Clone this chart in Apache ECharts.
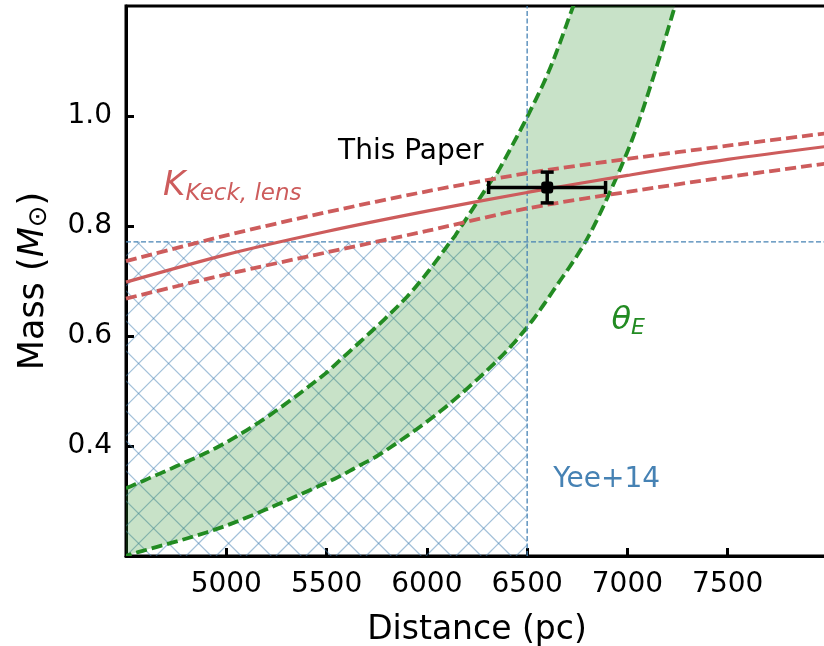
<!DOCTYPE html>
<html>
<head>
<meta charset="utf-8">
<script src="https://cdn.jsdelivr.net/npm/echarts@6/dist/echarts.min.js"></script>
<style>
html, body { margin: 0; padding: 0; background: #fff; }
#chart { width: 824px; height: 646px; }
</style>
</head>
<body>
<div id="chart"></div>
<script>
// K-band (Keck) mass-distance relation
const keckDist = [4500, 5000, 5500, 6000, 6500, 7000, 7500, 8000]
const keckMass = [0.698, 0.748, 0.790, 0.827, 0.861, 0.892, 0.921, 0.945]
const keckUpper = [0.736, 0.783, 0.825, 0.863, 0.896, 0.922, 0.946, 0.969]
const keckLower = [0.668, 0.712, 0.752, 0.791, 0.832, 0.862, 0.889, 0.914]

// theta_E band edges
const thetaUpperDist = [4500, 4750, 4967, 5200, 5450, 5567, 5900, 6117, 6158, 6317, 6367, 6508, 6617, 6725, 6750]
const thetaUpperMass = [0.323, 0.363, 0.400, 0.452, 0.519, 0.556, 0.671, 0.771, 0.792, 0.880, 0.907, 1.004, 1.089, 1.195, 1.22]
const thetaLowerDist = [4500, 4533, 4983, 5467, 5667, 5800, 6067, 6333, 6500, 6650, 6792, 6917, 7033, 7133, 7233, 7260]
const thetaLowerMass = [0.198, 0.204, 0.253, 0.328, 0.365, 0.393, 0.463, 0.549, 0.616, 0.693, 0.772, 0.865, 0.966, 1.075, 1.195, 1.23]

// Yee+14 limits
const yeeDist = 6500
const yeeMass = 0.771

// this paper: [distance, mass, dist low, dist high, mass low, mass high]
const thisPaper = [6600, 0.87, 6308, 6891, 0.842, 0.898]

const xMin = 4500, xMax = 8000, yMin = 0.2, yMax = 1.2

const font = 'DejaVu Sans'
const red = '#CD5C5C'
const green = '#228B22'
const blue = '#4682B4'

const zip = (xs, ys) => xs.map((x, i) => [x, ys[i]])

// catmull-rom sampling in pixel space so the dashed edges and the fill match
function smoothPts(pts, steps) {
    const out = [pts[0]]
    const n = pts.length
    for (let i = 0; i < n - 1; i++) {
        const p0 = pts[Math.max(i - 1, 0)], p1 = pts[i], p2 = pts[i + 1], p3 = pts[Math.min(i + 2, n - 1)]
        const c1 = [p1[0] + (p2[0] - p0[0]) / 6, p1[1] + (p2[1] - p0[1]) / 6]
        const c2 = [p2[0] - (p3[0] - p1[0]) / 6, p2[1] - (p3[1] - p1[1]) / 6]
        for (let s = 1; s <= steps; s++) {
            const t = s / steps, u = 1 - t
            out.push([
                u * u * u * p1[0] + 3 * u * u * t * c1[0] + 3 * u * t * t * c2[0] + t * t * t * p2[0],
                u * u * u * p1[1] + 3 * u * u * t * c1[1] + 3 * u * t * t * c2[1] + t * t * t * p2[1]
            ])
        }
    }
    return out
}

const chart = echarts.init(document.getElementById('chart'))

const labels = [
    { x: 5920, y: 0.935, rich: '{t|This Paper}', align: 'center' },
    { x: 4685, y: 0.872, rich: '{k|K}{ks|Keck, lens}', align: 'left' },
    { x: 6920, y: 0.627, rich: '{g|θ}{gs|E}', align: 'left' },
    { x: 6630, y: 0.339, rich: '{b|Yee+14}', align: 'left' }
]

const hatchStep = 30

const option = {
    animation: false,
    grid: {
        left: 126, top: 6, right: -4, bottom: 90,
        outerBoundsMode: 'none',
        show: true, borderColor: '#000', borderWidth: 3
    },
    xAxis: {
        type: 'value', min: xMin, max: xMax, interval: 500,
        name: 'Distance (pc)', nameLocation: 'middle', nameGap: 58,
        nameTextStyle: { fontFamily: font, fontSize: 33, color: '#000' },
        axisLine: { lineStyle: { color: '#000', width: 3 } },
        axisTick: { inside: true, length: 8, lineStyle: { width: 3, color: '#000' } },
        axisLabel: {
            fontFamily: font, fontSize: 28, color: '#000', margin: 15,
            showMinLabel: false, showMaxLabel: false,
            formatter: v => String(v)
        },
        splitLine: { show: false }
    },
    yAxis: {
        type: 'value', min: yMin, max: yMax, interval: 0.2,
        name: 'Mass ({m|M}{o|⊙})', nameLocation: 'middle', nameGap: 74, nameRotate: 90,
        nameTextStyle: {
            fontFamily: font, fontSize: 35, color: '#000',
            rich: {
                m: { fontFamily: font, fontSize: 35, fontStyle: 'italic', color: '#000' },
                o: { fontFamily: font, fontSize: 26, color: '#000', padding: [10, 0, 0, 0] }
            }
        },
        axisLine: { lineStyle: { color: '#000', width: 3 } },
        axisTick: { inside: true, length: 8, lineStyle: { width: 3, color: '#000' } },
        axisLabel: {
            fontFamily: font, fontSize: 28, color: '#000', margin: 14,
            showMinLabel: false, showMaxLabel: false,
            formatter: v => v.toFixed(1)
        },
        splitLine: { show: false }
    },
    series: [
        {
            // cross-hatched Yee+14 region
            type: 'custom', z: 1, clip: true,
            data: [[xMin, yMin, yeeDist, yeeMass]],
            renderItem: (params, api) => {
                const a = api.coord([api.value(0), api.value(3)])
                const b = api.coord([api.value(2), api.value(1)])
                const x0 = a[0], y0 = a[1], x1 = b[0], y1 = b[1]
                const children = []
                const st = { stroke: 'rgba(70,130,180,0.5)', lineWidth: 1.2 }
                // lines y = x + c  and  y = -x + c (pixel space)
                for (let c = y0 - x1 - hatchStep; c <= y1 - x0 + hatchStep; c += hatchStep) {
                    const xa = Math.max(x0, y0 - c), xb = Math.min(x1, y1 - c)
                    if (xb > xa) children.push({ type: 'line', shape: { x1: xa, y1: xa + c, x2: xb, y2: xb + c }, style: st })
                }
                const base = (x0 + y1) % hatchStep
                for (let c = base + Math.floor((x0 + y0 - base) / hatchStep) * hatchStep; c <= x1 + y1 + hatchStep; c += hatchStep) {
                    const xa = Math.max(x0, c - y1), xb = Math.min(x1, c - y0)
                    if (xb > xa) children.push({ type: 'line', shape: { x1: xa, y1: c - xa, x2: xb, y2: c - xb }, style: st })
                }
                return { type: 'group', children }
            }
        },
        {
            // theta_E band fill and dashed edges
            type: 'custom', z: 2, clip: true,
            data: [[0]],
            renderItem: (params, api) => {
                const up = smoothPts(zip(thetaUpperDist, thetaUpperMass).map(p => api.coord(p)), 12)
                const lo = smoothPts(zip(thetaLowerDist, thetaLowerMass).map(p => api.coord(p)), 12)
                const dash = { stroke: green, lineWidth: 3.8, fill: null, lineDash: [11, 5] }
                return {
                    type: 'group',
                    children: [
                        { type: 'polygon', shape: { points: up.concat(lo.slice().reverse()) }, style: { fill: 'rgba(34,139,34,0.25)' } },
                        { type: 'polyline', z2: 5, shape: { points: up }, style: dash },
                        { type: 'polyline', z2: 5, shape: { points: lo }, style: dash }
                    ]
                }
            }
        },
        {
            type: 'line', z: 3, symbol: 'none', silent: true,
            data: [[yeeDist, yMin], [yeeDist, yMax]],
            lineStyle: { color: blue, width: 1.3, type: [5, 2.5] }
        },
        {
            type: 'line', z: 3, symbol: 'none', silent: true,
            data: [[xMin, yeeMass], [xMax, yeeMass]],
            lineStyle: { color: blue, width: 1.3, type: [5, 2.5] }
        },
        {
            type: 'line', z: 5, symbol: 'none', smooth: 0.3,
            data: zip(keckDist, keckMass),
            lineStyle: { color: red, width: 3.2 }
        },
        {
            type: 'line', z: 5, symbol: 'none', smooth: 0.3,
            data: zip(keckDist, keckUpper),
            lineStyle: { color: red, width: 3.8, type: [11, 5] }
        },
        {
            type: 'line', z: 5, symbol: 'none', smooth: 0.3,
            data: zip(keckDist, keckLower),
            lineStyle: { color: red, width: 3.8, type: [11, 5] }
        },
        {
            // error bar point
            type: 'custom', z: 6,
            data: [thisPaper],
            renderItem: (params, api) => {
                const c = api.coord([api.value(0), api.value(1)])
                const l = api.coord([api.value(2), api.value(1)])
                const r = api.coord([api.value(3), api.value(1)])
                const b = api.coord([api.value(0), api.value(4)])
                const t = api.coord([api.value(0), api.value(5)])
                const st = { stroke: '#000', lineWidth: 3.5 }
                const cap = 6.5
                return {
                    type: 'group',
                    children: [
                        { type: 'line', shape: { x1: l[0], y1: l[1], x2: r[0], y2: r[1] }, style: st },
                        { type: 'line', shape: { x1: b[0], y1: b[1], x2: t[0], y2: t[1] }, style: st },
                        { type: 'line', shape: { x1: l[0], y1: l[1] - cap, x2: l[0], y2: l[1] + cap }, style: st },
                        { type: 'line', shape: { x1: r[0], y1: r[1] - cap, x2: r[0], y2: r[1] + cap }, style: st },
                        { type: 'line', shape: { x1: b[0] - cap, y1: b[1], x2: b[0] + cap, y2: b[1] }, style: st },
                        { type: 'line', shape: { x1: t[0] - cap, y1: t[1], x2: t[0] + cap, y2: t[1] }, style: st },
                        { type: 'rect', shape: { x: c[0] - 6, y: c[1] - 6, width: 12, height: 12, r: 3 }, style: { fill: '#000' } }
                    ]
                }
            }
        },
        {
            // annotations
            type: 'custom', z: 7, clip: false,
            data: labels.map(d => [d.x, d.y]),
            renderItem: (params, api) => {
                const d = labels[params.dataIndex]
                const p = api.coord([api.value(0), api.value(1)])
                return {
                    type: 'text',
                    x: p[0], y: p[1],
                    style: {
                        text: d.rich,
                        align: d.align,
                        verticalAlign: 'middle',
                        rich: {
                            t: { fontFamily: font, fontSize: 28, fill: '#000' },
                            k: { fontFamily: font, fontSize: 34, fontStyle: 'italic', fill: red },
                            ks: { fontFamily: font, fontSize: 23, fontStyle: 'italic', fill: red, padding: [15, 0, 0, 0] },
                            g: { fontFamily: font, fontSize: 32, fontStyle: 'italic', fill: green },
                            gs: { fontFamily: font, fontSize: 22, fontStyle: 'italic', fill: green, padding: [14, 0, 0, 0] },
                            b: { fontFamily: font, fontSize: 28, fill: blue }
                        }
                    }
                }
            }
        }
    ]
}

chart.setOption(option)
</script>
</body>
</html>
